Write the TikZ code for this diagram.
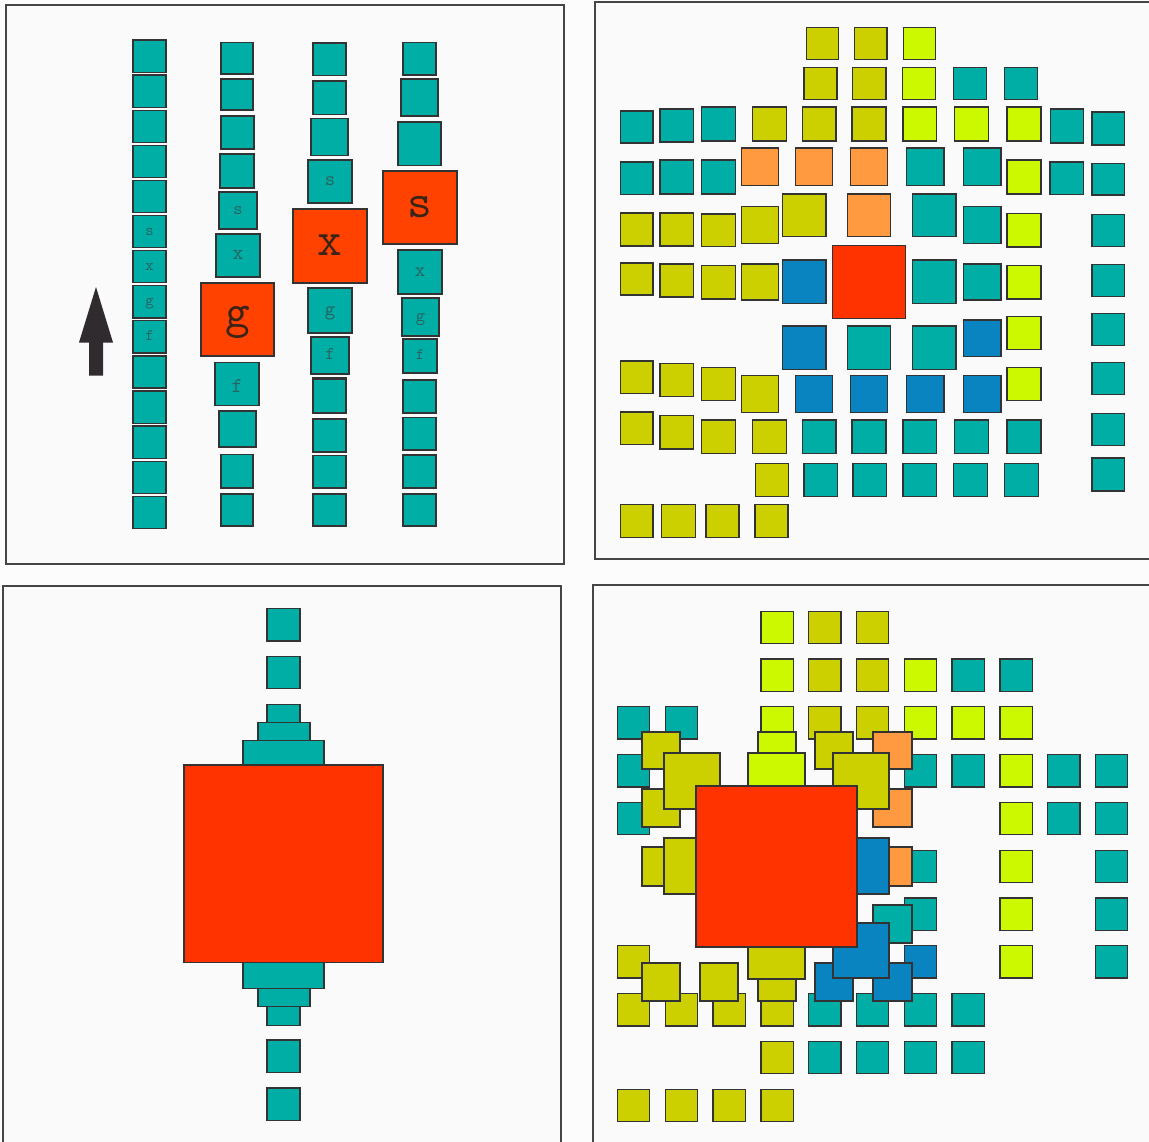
\documentclass[tikz,border=0pt]{standalone}
\usepackage{fontspec}
\definecolor{tealc}{HTML}{00AEA6}
\definecolor{olivec}{HTML}{CCD000}
\definecolor{brightc}{HTML}{CCF800}
\definecolor{orangec}{HTML}{FF9A40}
\definecolor{bluec}{HTML}{0A84C0}
\definecolor{redc}{HTML}{FF3300}
\definecolor{redl}{HTML}{FF4200}
\definecolor{edgec}{HTML}{333333}
\definecolor{framec}{HTML}{454545}
\definecolor{arrowc}{HTML}{2F2B2E}
\definecolor{lettc}{HTML}{2A625E}
\definecolor{lettr}{HTML}{3A2418}
\definecolor{panelbg}{HTML}{FAFAFA}
\newcommand\mysq[5]{\filldraw[sqline, fill=#5] (#1,#2) rectangle (#3,#4);}
\newcommand\gsq[3]{\mysq{617.5+47.8*#1}{611.2+47.8*#2}{649.8+47.8*#1}{643.5+47.8*#2}{#3}}
\begin{document}
\begin{tikzpicture}[x=1pt,y=-1pt,
  sqline/.style={draw=edgec, line width=1.3pt},
  framebox/.style={draw=framec, line width=2pt, fill=panelbg},
  lt/.style={anchor=base, inner sep=0pt, text=lettc},
  ltr/.style={anchor=base, inner sep=0pt, text=lettr}]
\useasboundingbox (0,0) rectangle (1149,1142);
\fill[white!99!black] (0,0) rectangle (1149,1142);
\clip (0,0) rectangle (1149,1142);
% frames
\draw[framebox] (6,5) rectangle (564,564);
\draw[framebox] (595,2) rectangle (1170,559);
\draw[framebox] (3,585.5) rectangle (561,1160);
\draw[framebox] (593,585) rectangle (1170,1160);

% ===== top-left panel =====
\foreach \k in {0,...,13} {\mysq{133}{40+35.1*\k}{166}{72.2+35.1*\k}{tealc}}
\node[lt, font=\fontsize{16}{16}\selectfont\ttfamily] (c1s) at (149.5,235.5) {s};
\node[lt, font=\fontsize{16}{16}\selectfont\ttfamily] (c1x) at (149.5,270.6) {x};
\node[lt, font=\fontsize{16}{16}\selectfont\ttfamily] (c1g) at (149.5,305.7) {g};
\node[lt, font=\fontsize{16}{16}\selectfont\ttfamily] (c1f) at (149.5,340.8) {f};
% column 2
\mysq{221}{42.5}{253}{74}{tealc}
\mysq{221}{79}{253}{110}{tealc}
\mysq{221}{116}{254}{149}{tealc}
\mysq{220}{154}{254}{188}{tealc}
\mysq{219}{192}{257}{229}{tealc}
\mysq{216}{234}{260}{277}{tealc}
\mysq{201}{283}{274}{356}{redl}
\mysq{215}{362.5}{259}{405.5}{tealc}
\mysq{219}{411}{256}{447}{tealc}
\mysq{221}{454.5}{253}{488}{tealc}
\mysq{221}{494}{253}{526}{tealc}
\node[lt, font=\fontsize{18}{18}\selectfont\ttfamily] (c2s) at (238,214.5) {s};
\node[lt, font=\fontsize{21}{21}\selectfont\ttfamily] (c2x) at (238,260) {x};
\node[ltr, font=\fontsize{48}{48}\selectfont\ttfamily] (c2g) at (237.5,327) {g};
\node[lt, font=\fontsize{21}{21}\selectfont\ttfamily] (c2f) at (237,392) {f};
% column 3
\mysq{313}{43}{346}{75.6}{tealc}
\mysq{313}{81}{346}{114.5}{tealc}
\mysq{311}{118.5}{348}{155.6}{tealc}
\mysq{308}{160}{352}{203}{tealc}
\mysq{293}{209}{367}{283}{redl}
\mysq{308}{288}{352}{333}{tealc}
\mysq{311}{337}{349}{374}{tealc}
\mysq{313}{378}{346}{413}{tealc}
\draw[edgec, line width=2.6pt] (313,378.5) -- (346,378.5);
\mysq{313}{419}{346}{452}{tealc}
\mysq{313}{455.6}{346}{488}{tealc}
\mysq{313}{494}{346}{526}{tealc}
\node[lt, font=\fontsize{20}{20}\selectfont\ttfamily] (c3s) at (330,186) {s};
\node[ltr, font=\fontsize{48}{48}\selectfont\ttfamily] (c3x) at (330,256) {x};
\node[lt, font=\fontsize{20}{20}\selectfont\ttfamily] (c3g) at (330,315) {g};
\node[lt, font=\fontsize{18}{18}\selectfont\ttfamily] (c3f) at (330,359.5) {f};
% column 4
\mysq{403}{42.5}{436}{75}{tealc}
\mysq{401}{79}{438}{116}{tealc}
\mysq{398}{122}{441}{165.5}{tealc}
\mysq{383}{171}{457}{244}{redl}
\mysq{398}{250}{442}{294}{tealc}
\mysq{402}{298}{439}{336}{tealc}
\mysq{403}{339}{437}{373}{tealc}
\mysq{403}{380}{436}{413}{tealc}
\mysq{403}{417.5}{436}{450}{tealc}
\mysq{403}{455}{436}{488}{tealc}
\mysq{403}{494}{436}{526}{tealc}
\node[ltr, font=\fontsize{48}{48}\selectfont\ttfamily] (c4s) at (420,218) {s};
\node[lt, font=\fontsize{20}{20}\selectfont\ttfamily] (c4x) at (420,276.5) {x};
\node[lt, font=\fontsize{18}{18}\selectfont\ttfamily] (c4g) at (420.5,321) {g};
\node[lt, font=\fontsize{16}{16}\selectfont\ttfamily] (c4f) at (420,359.5) {f};
% arrow
\fill[arrowc] (96,287) -- (113,342.5) -- (103,342.5) -- (103,375.6) -- (89,375.6) -- (89,342.5) -- (79,342.5) -- cycle;

% ===== top-right panel =====
% row A
\mysq{806.4}{27.3}{838.8}{59.3}{olivec}
\mysq{854.5}{27.3}{887}{59.3}{olivec}
\mysq{903.4}{27.3}{935.8}{59.3}{brightc}
% row B
\mysq{803.9}{67.3}{837}{99.3}{olivec}
\mysq{852.7}{67.3}{885.9}{99.3}{olivec}
\mysq{902.3}{67.3}{935.8}{99.3}{brightc}
\mysq{953.6}{67.3}{986.8}{99.3}{tealc}
\mysq{1004.6}{67.3}{1037.8}{99.3}{tealc}
% row C
\mysq{620.3}{111}{653.1}{143}{tealc}
\mysq{659.9}{109}{693.4}{142}{tealc}
\mysq{701.6}{107}{735.5}{141}{tealc}
\mysq{752.6}{107}{786.4}{141}{olivec}
\mysq{802.5}{107}{836}{141}{olivec}
\mysq{852}{107}{885.9}{141}{olivec}
\mysq{903}{107}{936.5}{141}{brightc}
\mysq{954.7}{107}{988.6}{141}{brightc}
\mysq{1007.1}{107}{1041}{141}{brightc}
\mysq{1050.6}{109}{1083.8}{143}{tealc}
\mysq{1092}{112}{1124.8}{145}{tealc}
% row D
\mysq{620.3}{162}{653.1}{194.5}{tealc}
\mysq{659.9}{160}{693.4}{194}{tealc}
\mysq{701.6}{160}{735.5}{194}{tealc}
\mysq{741.2}{148}{778.2}{185.5}{orangec}
\mysq{795.7}{148}{832.8}{185.5}{orangec}
\mysq{850.2}{148}{887.7}{185.5}{orangec}
\mysq{906.2}{148}{944}{185.5}{tealc}
\mysq{963.3}{148}{1001}{185.5}{tealc}
\mysq{1007.1}{160}{1041}{194}{brightc}
\mysq{1049.9}{162}{1083.8}{194.5}{tealc}
\mysq{1092}{163.6}{1124.8}{195}{tealc}
% row E
\mysq{620.3}{213}{653.1}{246}{olivec}
\mysq{659.9}{213}{693.4}{246}{olivec}
\mysq{701.6}{214}{735.5}{246.5}{olivec}
\mysq{741.2}{206.5}{778.2}{243.6}{olivec}
\mysq{782.5}{194}{826}{236.7}{olivec}
\mysq{847.4}{194}{890.5}{236.7}{orangec}
\mysq{912.6}{194}{956.1}{236.7}{tealc}
\mysq{963.3}{206.5}{1001}{243.6}{tealc}
\mysq{1007.1}{213.5}{1041}{247}{brightc}
\mysq{1092}{214.5}{1124.8}{246.5}{tealc}
% row F
\mysq{620.3}{263}{653.1}{295}{olivec}
\mysq{659.9}{264}{693.4}{297}{olivec}
\mysq{701.6}{265.5}{735.5}{299}{olivec}
\mysq{741.2}{264}{778.2}{300}{olivec}
\mysq{782.5}{260}{826}{303.6}{bluec}
\mysq{832.4}{245.8}{905.5}{318.5}{redc}
\mysq{912.6}{260}{956.1}{303.6}{tealc}
\mysq{963.3}{264}{1001}{300}{tealc}
\mysq{1007.1}{265.5}{1041}{299}{brightc}
\mysq{1092}{264.4}{1124.8}{296.7}{tealc}
% row G
\mysq{782.5}{326}{826}{369.5}{bluec}
\mysq{847.4}{326}{890.5}{369.5}{tealc}
\mysq{912.6}{326}{956.1}{369.5}{tealc}
\mysq{963.3}{320}{1001}{356.4}{bluec}
\mysq{1007.1}{316.4}{1041}{349.5}{brightc}
\mysq{1092}{313.5}{1124.8}{345.5}{tealc}
% row H
\mysq{620.3}{361}{653.1}{393.5}{olivec}
\mysq{659.9}{363.6}{693.4}{396.4}{olivec}
\mysq{701.6}{367.3}{735.5}{400.7}{olivec}
\mysq{741.2}{375.6}{778.2}{412.7}{olivec}
\mysq{795.7}{375.6}{832.8}{412.7}{bluec}
\mysq{850.2}{375.6}{887.7}{412.7}{bluec}
\mysq{906.2}{375.6}{944}{412.7}{bluec}
\mysq{963.3}{375.6}{1001}{412.7}{bluec}
\mysq{1007.1}{367.3}{1041}{400.7}{brightc}
\mysq{1092}{362.5}{1124.8}{394.5}{tealc}
% row I
\mysq{620.3}{412}{653.1}{444.4}{olivec}
\mysq{659.9}{415.6}{693.4}{449}{olivec}
\mysq{701.6}{420}{735.5}{453.8}{olivec}
\mysq{752.6}{420}{786.4}{453.8}{olivec}
\mysq{802.5}{420}{836}{453.8}{tealc}
\mysq{852}{420}{885.9}{453.8}{tealc}
\mysq{903}{420}{936.5}{453.8}{tealc}
\mysq{954.7}{420}{988.6}{453.8}{tealc}
\mysq{1007.1}{420}{1041}{453.8}{tealc}
\mysq{1092}{413.5}{1124.8}{445.5}{tealc}
% row J
\mysq{755.8}{463.6}{788.6}{496.4}{olivec}
\mysq{803.9}{463.6}{837.8}{496.4}{tealc}
\mysq{853.1}{463.6}{886.6}{496.4}{tealc}
\mysq{903}{463.6}{936.5}{496.4}{tealc}
\mysq{953.6}{463.6}{987.5}{496.4}{tealc}
\mysq{1004.6}{463.6}{1038.5}{496.4}{tealc}
\mysq{1092}{458}{1124.8}{491}{tealc}
% row K
\mysq{620.3}{504.7}{653.1}{537.5}{olivec}
\mysq{661.3}{504.7}{695.2}{537.5}{olivec}
\mysq{705.9}{504.7}{739}{537.5}{olivec}
\mysq{755}{504.7}{787.9}{537.5}{olivec}

% ===== bottom-left panel =====
\mysq{267}{608.7}{300}{640.9}{tealc}
\mysq{267}{656.3}{300}{688.6}{tealc}
\mysq{267}{704.4}{300}{736.6}{tealc}
\mysq{258}{722.7}{310}{773.6}{tealc}
\mysq{243}{740.6}{324}{819.8}{tealc}
\mysq{267}{992}{300}{1025.2}{tealc}
\mysq{258}{955.5}{310}{1006.5}{tealc}
\mysq{243}{909.6}{324}{988.6}{tealc}
\mysq{184}{765}{383}{962.8}{redc}
\mysq{267}{1039.9}{300}{1072.8}{tealc}
\mysq{267}{1087.9}{300}{1120.5}{tealc}

% ===== bottom-right panel =====
% grid
\gsq{3}{0}{brightc}\gsq{4}{0}{olivec}\gsq{5}{0}{olivec}
\gsq{3}{1}{brightc}\gsq{4}{1}{olivec}\gsq{5}{1}{olivec}\gsq{6}{1}{brightc}\gsq{7}{1}{tealc}\gsq{8}{1}{tealc}
\gsq{0}{2}{tealc}\gsq{1}{2}{tealc}\gsq{3}{2}{brightc}\gsq{4}{2}{olivec}\gsq{5}{2}{olivec}\gsq{6}{2}{brightc}\gsq{7}{2}{brightc}\gsq{8}{2}{brightc}
\gsq{0}{3}{tealc}\gsq{6}{3}{tealc}\gsq{7}{3}{tealc}\gsq{8}{3}{brightc}\gsq{9}{3}{tealc}\gsq{10}{3}{tealc}
\gsq{0}{4}{tealc}\gsq{8}{4}{brightc}\gsq{9}{4}{tealc}\gsq{10}{4}{tealc}
\gsq{6}{5}{tealc}\gsq{8}{5}{brightc}\gsq{10}{5}{tealc}
\gsq{6}{6}{tealc}\gsq{8}{6}{brightc}\gsq{10}{6}{tealc}
\gsq{0}{7}{olivec}\gsq{6}{7}{bluec}\gsq{8}{7}{brightc}\gsq{10}{7}{tealc}
\gsq{0}{8}{olivec}\gsq{1}{8}{olivec}\gsq{2}{8}{olivec}\gsq{3}{8}{olivec}\gsq{4}{8}{tealc}\gsq{5}{8}{tealc}\gsq{6}{8}{tealc}\gsq{7}{8}{tealc}
\gsq{3}{9}{olivec}\gsq{4}{9}{tealc}\gsq{5}{9}{tealc}\gsq{6}{9}{tealc}\gsq{7}{9}{tealc}
\gsq{0}{10}{olivec}\gsq{1}{10}{olivec}\gsq{2}{10}{olivec}\gsq{3}{10}{olivec}
% medium
\mysq{642}{732}{680}{769}{olivec}
\mysq{642}{789}{680}{827}{olivec}
\mysq{642}{847}{680}{886}{olivec}
\mysq{642}{963}{680}{1001}{olivec}
\mysq{700}{963}{738}{1001}{olivec}
\mysq{758}{732}{796}{769}{brightc}
\mysq{758}{963}{796}{1001}{olivec}
\mysq{815}{732}{853}{769}{olivec}
\mysq{815}{963}{853}{1001}{bluec}
\mysq{873}{732}{912}{769}{orangec}
\mysq{873}{789}{912}{827}{orangec}
\mysq{873}{847}{912}{886}{orangec}
\mysq{873}{905}{912}{943}{tealc}
\mysq{873}{963}{912}{1001}{bluec}
% big
\mysq{664}{753}{720}{809}{olivec}
\mysq{748}{753}{805}{809}{brightc}
\mysq{833}{753}{889}{809}{olivec}
\mysq{664}{838}{720}{894}{olivec}
\mysq{833}{838}{889}{894}{bluec}
\mysq{748}{923}{805}{979}{olivec}
\mysq{833}{923}{889}{978}{bluec}
% center
\mysq{696}{786}{857}{947}{redc}
\end{tikzpicture}
\end{document}
